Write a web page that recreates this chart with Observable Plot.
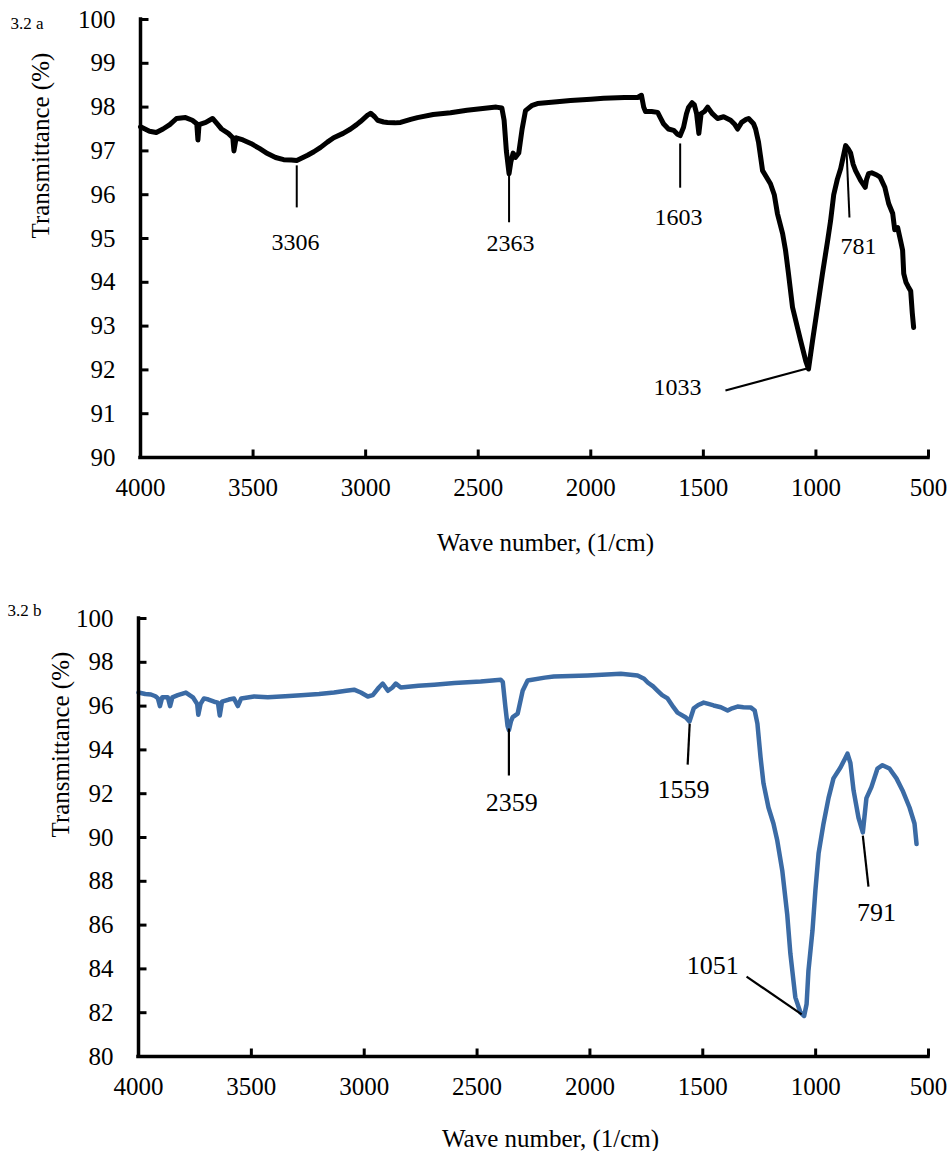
<!DOCTYPE html>
<html>
<head>
<meta charset="utf-8">
<script src="https://cdn.jsdelivr.net/npm/d3@7"></script>
<script src="https://cdn.jsdelivr.net/npm/@observablehq/plot@0.6"></script>
<style>
  body { margin: 0; background: #fff; }
  #chart svg { display: block; }
</style>
</head>
<body>
<div id="chart"></div>
<script>
// FTIR transmittance spectra, samples 3.2 a and 3.2 b

const xTicks = [4000, 3500, 3000, 2500, 2000, 1500, 1000, 500];
const yTicksA = [90, 91, 92, 93, 94, 95, 96, 97, 98, 99, 100];
const yTicksB = [80, 82, 84, 86, 88, 90, 92, 94, 96, 98, 100];

// Spectrum 3.2 a: wave number (1/cm) and transmittance (%)
const wnA = [
  4000, 3960, 3930, 3900, 3870, 3840, 3800, 3770, 3750, 3745, 3740, 3710, 3680, 3660, 3640,
  3610, 3590, 3585, 3575, 3545, 3510, 3470, 3436, 3400, 3364, 3330, 3306, 3290, 3258, 3230,
  3200, 3170, 3142, 3100, 3067, 3040, 3023, 2990, 2978, 2960, 2947, 2920, 2903, 2870, 2845,
  2800, 2770, 2700, 2623, 2550, 2490, 2420, 2395, 2385, 2375, 2363, 2355, 2345, 2335, 2320,
  2305, 2290, 2260, 2237, 2150, 2090, 2000, 1943, 1850, 1792, 1775, 1765, 1757, 1730, 1703,
  1690, 1677, 1655, 1632, 1615, 1603, 1588, 1575, 1566, 1550, 1540, 1530, 1520, 1510, 1495,
  1481, 1460, 1437, 1410, 1379, 1360, 1348, 1330, 1310, 1299, 1277, 1268, 1255, 1237, 1202,
  1185, 1171, 1148, 1135, 1122, 1104, 1068, 1045, 1033, 1015, 993, 971, 948, 935, 921,
  905, 890, 868, 857, 846, 835, 824, 801, 781, 775, 766, 752, 730, 715, 694,
  677, 659, 650, 637, 624, 615, 610, 600, 590, 579, 572, 566
];
const trA = [
  97.55, 97.45, 97.42, 97.50, 97.60, 97.74, 97.76, 97.70, 97.62, 97.25, 97.60, 97.65, 97.74, 97.62, 97.50,
  97.40, 97.30, 97.00, 97.30, 97.25, 97.17, 97.05, 96.94, 96.85, 96.80, 96.79, 96.78, 96.82, 96.90, 96.98,
  97.08, 97.20, 97.30, 97.40, 97.50, 97.60, 97.67, 97.82, 97.86, 97.78, 97.70, 97.66, 97.65, 97.64, 97.65,
  97.72, 97.76, 97.83, 97.87, 97.93, 97.96, 98.00, 97.98, 97.70, 97.00, 96.48, 96.75, 96.95, 96.85, 96.95,
  97.50, 97.92, 98.04, 98.08, 98.12, 98.15, 98.18, 98.20, 98.22, 98.22, 98.27, 98.00, 97.90, 97.90, 97.88,
  97.75, 97.62, 97.50, 97.47, 97.38, 97.35, 97.54, 97.85, 97.99, 98.10, 98.05, 97.85, 97.40, 97.85, 97.90,
  98.00, 97.85, 97.74, 97.78, 97.70, 97.60, 97.50, 97.65, 97.72, 97.74, 97.62, 97.50, 97.20, 96.55, 96.25,
  96.00, 95.57, 95.11, 94.73, 94.20, 93.43, 92.67, 92.20, 92.02, 92.67, 93.43, 94.20, 94.95, 95.40, 96.00,
  96.35, 96.60, 97.12, 97.05, 96.95, 96.70, 96.55, 96.32, 96.17, 96.35, 96.48, 96.50, 96.45, 96.40, 96.17,
  95.80, 95.57, 95.20, 95.25, 94.95, 94.73, 94.20, 94.00, 93.90, 93.80, 93.30, 92.97
];

// Spectrum 3.2 b: wave number (1/cm) and transmittance (%)
const wnB = [
  4000, 3970, 3945, 3925, 3914, 3905, 3895, 3870, 3860, 3850, 3826, 3790, 3759, 3740, 3735,
  3725, 3710, 3690, 3665, 3648, 3640, 3630, 3600, 3577, 3560, 3545, 3488, 3427, 3350, 3280,
  3200, 3134, 3080, 3045, 3015, 2984, 2962, 2935, 2918, 2895, 2875, 2860, 2838, 2760, 2690,
  2600, 2484, 2395, 2386, 2375, 2365, 2359, 2350, 2342, 2320, 2298, 2276, 2200, 2160, 2010,
  1863, 1789, 1760, 1744, 1720, 1700, 1680, 1656, 1630, 1612, 1575, 1559, 1540, 1520, 1496,
  1475, 1452, 1420, 1390, 1370, 1346, 1320, 1288, 1270, 1258, 1244, 1231, 1209, 1187, 1170,
  1148, 1126, 1112, 1090, 1067, 1051, 1040, 1032, 1014, 1001, 987, 965, 943, 921, 890,
  870, 859, 846, 832, 810, 791, 775, 753, 726, 704, 673, 642, 615, 584, 562,
  553
];
const trB = [
  96.62, 96.55, 96.53, 96.45, 96.35, 96.00, 96.40, 96.40, 96.00, 96.40, 96.50, 96.62, 96.40, 96.10, 95.60,
  96.10, 96.35, 96.30, 96.20, 96.16, 95.57, 96.20, 96.30, 96.35, 96.00, 96.35, 96.44, 96.40, 96.45, 96.50,
  96.55, 96.62, 96.70, 96.75, 96.62, 96.44, 96.50, 96.85, 97.03, 96.70, 96.85, 97.03, 96.85, 96.93, 96.98,
  97.05, 97.12, 97.20, 97.10, 96.00, 95.10, 94.90, 95.30, 95.50, 95.66, 96.70, 97.17, 97.30, 97.35, 97.40,
  97.48, 97.40, 97.25, 97.08, 96.90, 96.70, 96.50, 96.35, 95.95, 95.70, 95.48, 95.30, 95.90, 96.05, 96.16,
  96.10, 96.03, 95.95, 95.80, 95.90, 95.98, 95.95, 95.94, 95.80, 95.20, 93.65, 92.47, 91.37, 90.64, 89.86,
  88.50, 86.50, 84.70, 82.70, 82.00, 81.85, 82.40, 83.90, 85.75, 87.60, 89.27, 90.64, 91.80, 92.70, 93.20,
  93.60, 93.83, 93.40, 92.15, 90.90, 90.23, 91.80, 92.30, 93.15, 93.30, 93.15, 92.70, 92.15, 91.37, 90.64,
  89.70
];

// Peak annotations: label, text anchor point and leader line, in data units
const notesA = [
  {label: "3306", tx: 3311, ty: 94.91, x1: 3306, y1: 96.67, x2: 3306, y2: 95.71},
  {label: "2363", tx: 2357, ty: 94.89, x1: 2363, y1: 96.44, x2: 2363, y2: 95.37},
  {label: "1603", tx: 1610, ty: 95.48, x1: 1603, y1: 97.17, x2: 1603, y2: 96.16},
  {label: "781",  tx: 811,  ty: 94.82, x1: 864,  y1: 97.00, x2: 851,  y2: 95.48},
  {label: "1033", tx: 1615, ty: 91.60, x1: 1402, y1: 91.53, x2: 1040, y2: 92.03}
];
const notesB = [
  {label: "2359", tx: 2346, ty: 91.60, x1: 2359, y1: 94.98, x2: 2359, y2: 92.83},
  {label: "1559", tx: 1585, ty: 92.19, x1: 1558, y1: 95.20, x2: 1567, y2: 93.33},
  {label: "791",  tx: 730,  ty: 86.58, x1: 791,  y1: 90.09, x2: 766,  y2: 87.76},
  {label: "1051", tx: 1456, ty: 84.16, x1: 1306, y1: 83.65, x2: 1062, y2: 81.92}
];

const serif = "'Liberation Serif', 'Times New Roman', 'DejaVu Serif', serif";
const TICK = 8; // inward tick length, px
const X0 = 4000, X1 = 500;

function panel(o) {
  const rows = o.wn.map((w, i) => ({wn: w, t: o.tr[i]}));
  const [lo, hi] = o.yDomain;
  const frameW = 952 - o.marginLeft - o.marginRight;
  const frameH = o.height - o.marginTop - o.marginBottom;
  // tick stub length expressed in each scale's own units
  const tickY = TICK * (hi - lo) / frameH;
  const tickX = TICK * (X0 - X1) / frameW;
  return Plot.plot({
    width: 952,
    height: o.height,
    marginTop: o.marginTop,
    marginBottom: o.marginBottom,
    marginLeft: o.marginLeft,
    marginRight: o.marginRight,
    style: {fontFamily: serif, fontSize: "25px", color: "#000", background: "#fff", overflow: "visible"},
    x: {domain: [X0, X1]},
    y: {domain: [lo, hi]},
    marks: [
      // spectrum
      Plot.line(rows, {x: "wn", y: "t", stroke: o.color, strokeWidth: o.lineWidth, strokeLinejoin: "round"}),
      // inward ticks
      Plot.link(o.yTicks, {x1: X0, x2: X0 - tickX, y1: (d) => d, y2: (d) => d, stroke: "#000", strokeWidth: 3}),
      Plot.link(xTicks, {x1: (d) => d, x2: (d) => d, y1: lo, y2: lo + tickY, stroke: "#000", strokeWidth: 3}),
      // axis lines
      Plot.ruleX([X0], {y1: lo, y2: hi, strokeWidth: 3.5, strokeLinecap: "square"}),
      Plot.ruleY([lo], {x1: X0, x2: X1, strokeWidth: 3.5, strokeLinecap: "square"}),
      // tick labels
      Plot.axisY({ticks: o.yTicks, tickSize: 0, tickPadding: 25, tickFormat: d3.format("d"), label: null}),
      Plot.axisX({ticks: xTicks, tickSize: 0, tickPadding: 21, tickFormat: d3.format("d"), label: null}),
      // axis titles
      Plot.text(["Transmittance (%)"], {frameAnchor: "left", rotate: -90, dx: o.yTitleDx, lineAnchor: "middle", fontSize: 25}),
      Plot.text(["Wave number, (1/cm)"], {frameAnchor: "bottom", dx: o.xTitleDx, dy: o.xTitleDy, lineAnchor: "middle", fontSize: 25}),
      // panel tag
      Plot.text([o.tag], {frameAnchor: "top-left", textAnchor: "start", lineAnchor: "middle", dx: o.tagDx, dy: o.tagDy, fontSize: 17}),
      // peak annotations
      Plot.link(o.notes, {x1: "x1", y1: "y1", x2: "x2", y2: "y2", stroke: "#000", strokeWidth: o.noteStroke}),
      Plot.text(o.notes, {x: "tx", y: "ty", text: "label", fontSize: o.noteSize, fill: "#000"})
    ]
  });
}

const chart = document.getElementById("chart");

chart.append(panel({
  wn: wnA, tr: trA, yDomain: [90, 100], yTicks: yTicksA, color: "#000", lineWidth: 5,
  height: 575, marginTop: 19, marginBottom: 118, marginLeft: 140, marginRight: 24,
  yTitleDx: -100, xTitleDx: 11, xTitleDy: 85, tag: "3.2 a", tagDx: -130, tagDy: 4,
  notes: notesA, noteSize: 24, noteStroke: 2
}));

chart.append(panel({
  wn: wnB, tr: trB, yDomain: [80, 100], yTicks: yTicksB, color: "#3b6ba5", lineWidth: 4.5,
  height: 576, marginTop: 43, marginBottom: 95, marginLeft: 138, marginRight: 24,
  yTitleDx: -78, xTitleDx: 17, xTitleDy: 82, tag: "3.2 b", tagDx: -131, tagDy: -8,
  notes: notesB, noteSize: 26, noteStroke: 2.2
}));
</script>
</body>
</html>
